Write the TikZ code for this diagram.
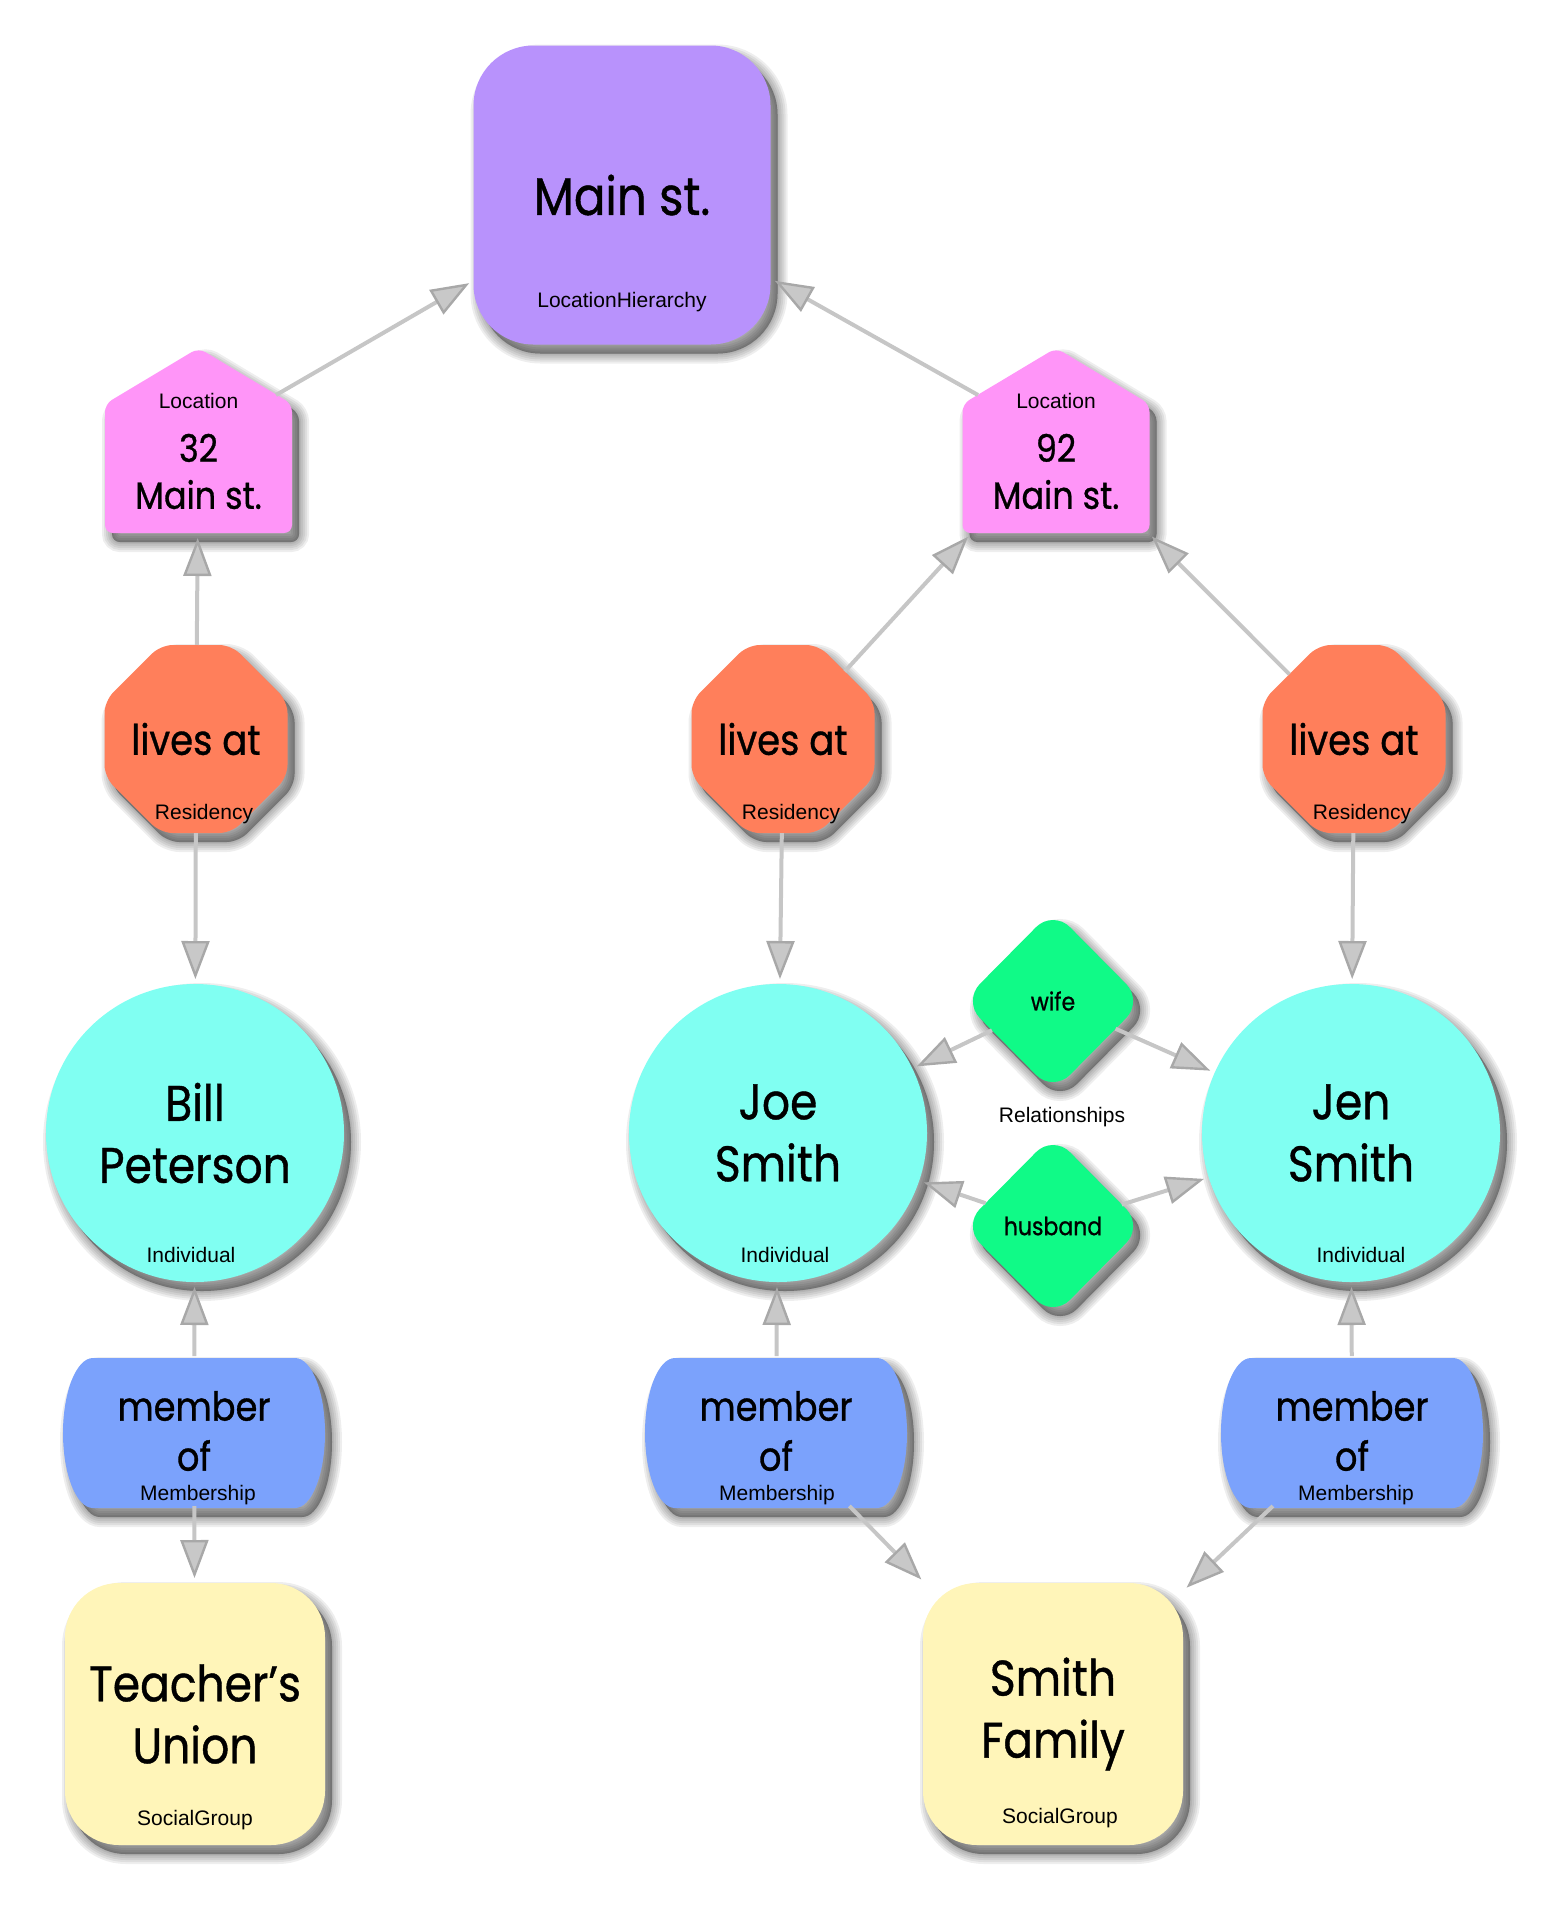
\documentclass[tikz,border=0pt]{standalone}
\usepackage{fontspec}
\setmainfont{Liberation Sans}
\newfontfamily\futfont[FakeStretch=0.88,FakeBold=0.8]{Poppins}
\usetikzlibrary{shapes.geometric,shapes.misc,arrows.meta}

\definecolor{cMain}{HTML}{B892FC}
\definecolor{cLoc}{HTML}{FF95F8}
\definecolor{cRes}{HTML}{FF7F5B}
\definecolor{cInd}{HTML}{80FFF2}
\definecolor{cRel}{HTML}{10FA87}
\definecolor{cMem}{HTML}{7BA2FC}
\definecolor{cSoc}{HTML}{FFF5B9}
\definecolor{lineGray}{HTML}{C6C6C6}
\definecolor{arrFill}{HTML}{C8C8C8}
\definecolor{arrEdge}{HTML}{A8A8A8}

\tikzset{
  shadowlayer/.style={preaction={draw=black, fill=black, line width=#1,
      draw opacity=0.065, fill opacity=0.065,
      transform canvas={xshift=3.5pt, yshift=-4.5pt}}},
  softshadow/.style={shadowlayer=10pt, shadowlayer=8pt, shadowlayer=6pt,
    shadowlayer=4pt, shadowlayer=2pt, shadowlayer=0.5pt},
  base/.style={inner sep=0pt, outer sep=0pt, align=center, softshadow},
  bare/.style={inner sep=0pt, outer sep=0pt, align=center, rectangle},
  bigtxt/.style={font=\futfont\fontsize{25}{31}\selectfont},
  maintxt/.style={font=\futfont\fontsize{26.5}{31}\selectfont},
  midtxt/.style={font=\futfont\fontsize{21}{25}\selectfont},
  memtxt/.style={font=\futfont\fontsize{20}{25}\selectfont},
  housetxt/.style={font=\futfont\fontsize{19}{23.5}\selectfont},
  reltxt/.style={font=\futfont\fontsize{12.5}{15}\selectfont},
  typelbl/.style={inner sep=0pt, font=\fontsize{10.5}{12}\selectfont},
  mainbox/.style={base, maintxt, rectangle, rounded corners=30pt, fill=cMain,
    minimum width=148.5pt, minimum height=149.5pt},
  houseshape/.style={fill=cLoc, softshadow, rounded corners=4pt},
  housebb/.style={bare, minimum width=93.5pt, minimum height=92.5pt},
  resbox/.style={base, midtxt, chamfered rectangle, chamfered rectangle xsep=20pt,
    chamfered rectangle ysep=20pt, rounded corners=6pt, fill=cRes,
    minimum width=91.5pt, minimum height=94pt},
  indbox/.style={base, bigtxt, circle, fill=cInd, minimum size=149pt},
  relbox/.style={base, reltxt, diamond, rounded corners=12pt, fill=cRel,
    minimum width=90pt, minimum height=91pt},
  memshape/.style={fill=cMem, softshadow},
  membb/.style={bare, memtxt, minimum width=131pt, minimum height=75pt},
  socbox/.style={base, bigtxt, rectangle, rounded corners=27pt, fill=cSoc,
    minimum width=130pt, minimum height=131pt},
  edge/.style={draw=lineGray, line width=2pt, shorten >=2.5pt,
    -{Triangle[length=19pt, width=14pt, color=arrEdge, fill=arrFill, line width=1.2pt]}}
}

\newcommand\houseat[1]{%
  \fill[houseshape, shift={(#1,0)}] (0,533) -- (-93.5,533) -- (-93.5,404) -- (0,348)
    -- (93.5,404) -- (93.5,533) -- cycle;}
\newcommand\memat[1]{%
  \fill[memshape, shift={(#1,0)}] (-101,1358) -- (101,1358)
    arc[start angle=-90, end angle=90, x radius=30, y radius=75]
    -- (-101,1508)
    arc[start angle=90, end angle=270, x radius=30, y radius=75] -- cycle;}

\begin{document}
\begin{tikzpicture}[x=0.5pt, y=-0.5pt]
\useasboundingbox (0,0) rectangle (1566,1912);

% Location hierarchy
\node[mainbox] (main) at (622,195) {Main st.};
\node[typelbl] (mainT) at (622,302) {LocationHierarchy};

% Locations (house shapes)
\houseat{198.5}
\node[housebb] (loc32) at (198.5,440.5) {};
\node[bare, housetxt] (loc32L) at (198.5,471.5) {32\\Main st.};
\node[typelbl] (loc32T) at (198.5,401) {Location};
\coordinate (loc32roof) at (276,395);

\houseat{1056}
\node[housebb] (loc92) at (1056,440.5) {};
\node[bare, housetxt] (loc92L) at (1056,471.5) {92\\Main st.};
\node[typelbl] (loc92T) at (1056,401) {Location};
\coordinate (loc92roof) at (978,395);

% Residencies
\node[resbox] (res1) at (196,739) {lives at};
\node[typelbl] (res1T) at (204,814) {Residency};
\node[resbox] (res2) at (783,739) {lives at};
\node[typelbl] (res2T) at (791,814) {Residency};
\node[resbox] (res3) at (1354,739) {lives at};
\node[typelbl] (res3T) at (1362,814) {Residency};

% Individuals
\node[indbox] (bill) at (195,1133) {Bill\\Peterson};
\node[typelbl] (billT) at (191,1255) {Individual};
\node[indbox] (joe) at (778,1133) {Joe\\Smith};
\node[typelbl] (joeT) at (785,1255) {Individual};
\node[indbox] (jen) at (1351,1133) {Jen\\Smith};
\node[typelbl] (jenT) at (1361,1255) {Individual};

% Relationships
\node[relbox] (wife) at (1053,1001) {wife};
\node[relbox] (husband) at (1053,1226) {husband};
\node[typelbl] (relT) at (1062,1117) {Relationships};

% Memberships
\memat{194}
\node[membb] (mem1) at (194,1431) {member\\of};
\node[typelbl] (mem1T) at (198,1495) {Membership};
\memat{776}
\node[membb] (mem2) at (776,1431) {member\\of};
\node[typelbl] (mem2T) at (777,1495) {Membership};
\memat{1352}
\node[membb] (mem3) at (1352,1431) {member\\of};
\node[typelbl] (mem3T) at (1356,1495) {Membership};

% Social groups
\node[socbox] (teach) at (195,1714) {Teacher’s\\Union};
\node[typelbl] (teachT) at (195,1820) {SocialGroup};
\node[socbox] (smith) at (1053,1714) {Smith\\Family};
\node[typelbl] (smithT) at (1060,1818) {SocialGroup};

% edges
\draw[edge] (loc32roof) -- (main);
\draw[edge] (loc92roof) -- (main);
\draw[edge] (res1) -- (loc32);
\draw[edge] (res2) -- (loc92);
\draw[edge] (res3) -- (loc92);
\draw[edge] (res1) -- (bill);
\draw[edge] (res2) -- (joe);
\draw[edge] (res3) -- (jen);
\draw[edge] (wife) -- (joe);
\draw[edge] (wife) -- (jen);
\draw[edge] (husband) -- (joe);
\draw[edge] (husband) -- (jen);
\draw[edge] (mem1) -- (bill);
\draw[edge] (mem1) -- (teach);
\draw[edge] (mem2) -- (joe);
\draw[edge] (mem2) -- (smith);
\draw[edge] (mem3) -- (jen);
\draw[edge] (mem3) -- (smith);
\end{tikzpicture}
\end{document}
